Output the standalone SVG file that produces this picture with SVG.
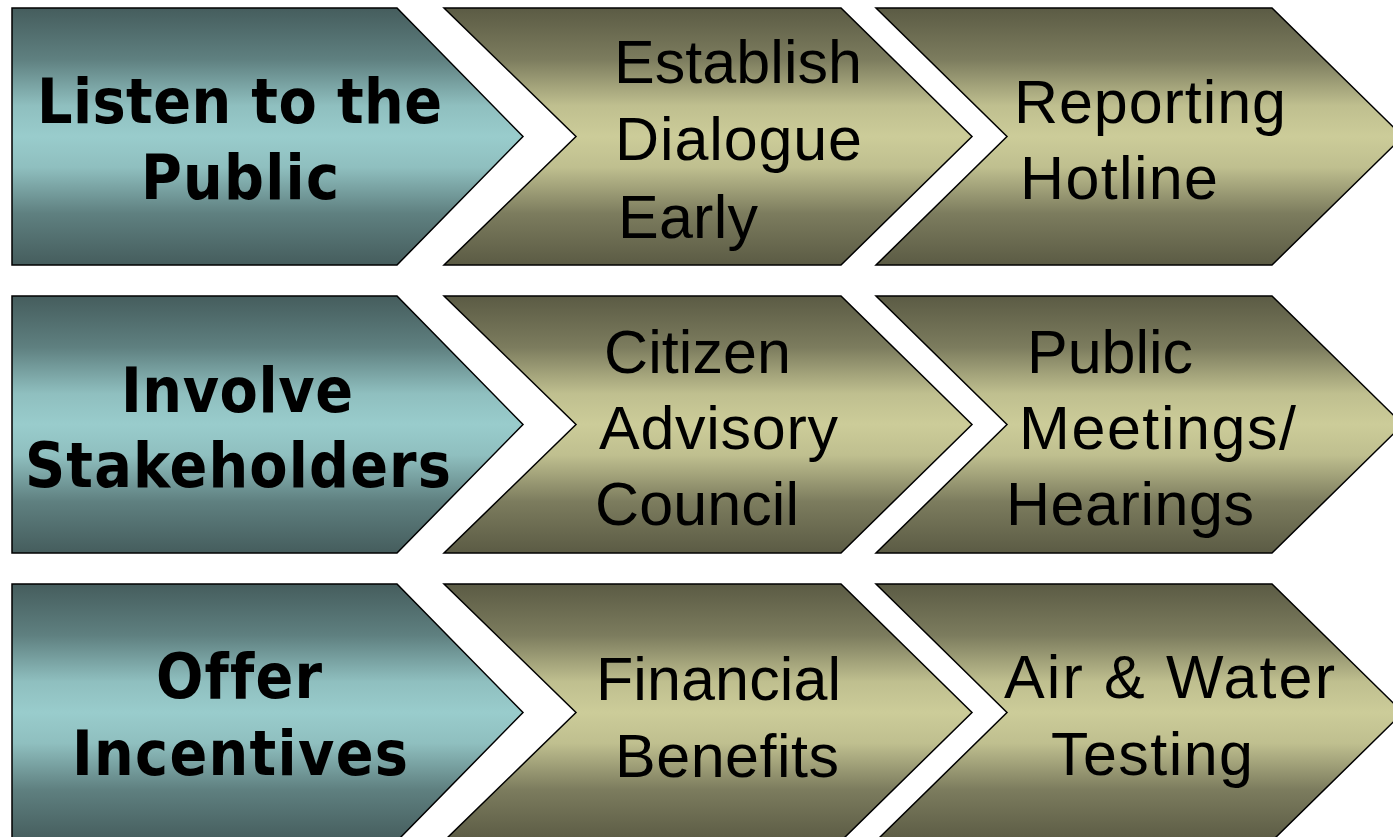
<svg xmlns="http://www.w3.org/2000/svg" width="1393" height="837" viewBox="0 0 1393 837">
<defs>
<linearGradient id="gTeal" x1="0" y1="0" x2="0" y2="1">
<stop offset="0" stop-color="#455d5d"/>
<stop offset="0.2" stop-color="#5f8080"/>
<stop offset="0.38" stop-color="#8fbfbf"/>
<stop offset="0.5" stop-color="#99cccc"/>
<stop offset="0.62" stop-color="#8fbfbf"/>
<stop offset="0.8" stop-color="#5f8080"/>
<stop offset="1" stop-color="#455d5d"/>
</linearGradient>
<linearGradient id="gOlive" x1="0" y1="0" x2="0" y2="1">
<stop offset="0" stop-color="#5b5b44"/>
<stop offset="0.2" stop-color="#7c7c5e"/>
<stop offset="0.38" stop-color="#bfbf8f"/>
<stop offset="0.5" stop-color="#cccc99"/>
<stop offset="0.62" stop-color="#bfbf8f"/>
<stop offset="0.8" stop-color="#7c7c5e"/>
<stop offset="1" stop-color="#5b5b44"/>
</linearGradient>
</defs>
<style>
.teal{fill:url(#gTeal);stroke:#000;stroke-width:1.5;stroke-linejoin:miter}
.olive{fill:url(#gOlive);stroke:#000;stroke-width:1.5;stroke-linejoin:miter}
.b{font-family:"DejaVu Sans Condensed","Liberation Sans",Arial,sans-serif;font-weight:bold;font-size:62px;fill:#000;font-variant-ligatures:none}
.r{font-family:"Liberation Sans",Arial,sans-serif;font-size:61px;fill:#000}
</style>
<rect width="1393" height="837" fill="#fff"/>

<g id="row1">
<g id="listen">
<polygon class="teal" points="12,8 397,8 523,136.5 397,265 12,265"/>
<text class="b" x="37" y="123" textLength="405" lengthAdjust="spacing">Listen to the</text>
<text class="b" x="141" y="199" textLength="198" lengthAdjust="spacing">Public</text>
</g>
<g id="dialogue">
<polygon class="olive" points="444,8 841,8 972,136.5 841,265 444,265 576,136.5"/>
<text class="r" x="614" y="83" textLength="248" lengthAdjust="spacing">Establish</text>
<text class="r" x="615" y="160" textLength="247" lengthAdjust="spacing">Dialogue</text>
<text class="r" x="618" y="238" textLength="140" lengthAdjust="spacing">Early</text>
</g>
<g id="hotline">
<polygon class="olive" points="876,8 1272,8 1403,136.5 1272,265 876,265 1007,136.5"/>
<text class="r" x="1014" y="123" textLength="272" lengthAdjust="spacing">Reporting</text>
<text class="r" x="1020" y="199" textLength="198" lengthAdjust="spacing">Hotline</text>
</g>
</g>

<g id="row2">
<g id="involve">
<polygon class="teal" points="12,296 397,296 523,424.5 397,553 12,553"/>
<text class="b" x="121" y="412" textLength="232" lengthAdjust="spacing">Involve</text>
<text class="b" x="25" y="487" textLength="426" lengthAdjust="spacing">Stakeholders</text>
</g>
<g id="council">
<polygon class="olive" points="444,296 841,296 972,424.5 841,553 444,553 576,424.5"/>
<text class="r" x="604" y="373" textLength="187" lengthAdjust="spacing">Citizen</text>
<text class="r" x="599" y="449" textLength="239" lengthAdjust="spacing">Advisory</text>
<text class="r" x="595" y="525" textLength="204" lengthAdjust="spacing">Council</text>
</g>
<g id="meetings">
<polygon class="olive" points="876,296 1272,296 1403,424.5 1272,553 876,553 1007,424.5"/>
<text class="r" x="1027" y="373" textLength="166" lengthAdjust="spacing">Public</text>
<text class="r" x="1019" y="449" textLength="277" lengthAdjust="spacing">Meetings/</text>
<text class="r" x="1006" y="525" textLength="248" lengthAdjust="spacing">Hearings</text>
</g>
</g>

<g id="row3">
<g id="incentives">
<polygon class="teal" points="12,584 397,584 523,712.5 397,841 12,841"/>
<text class="b" x="156" y="698" textLength="166" lengthAdjust="spacing">Offer</text>
<text class="b" x="72" y="775" textLength="336" lengthAdjust="spacing">Incentives</text>
</g>
<g id="financial">
<polygon class="olive" points="444,584 841,584 972,712.5 841,841 444,841 576,712.5"/>
<text class="r" x="596" y="700" textLength="245" lengthAdjust="spacing">Financial</text>
<text class="r" x="615" y="777" textLength="224" lengthAdjust="spacing">Benefits</text>
</g>
<g id="testing">
<polygon class="olive" points="876,584 1272,584 1403,712.5 1272,841 876,841 1007,712.5"/>
<text class="r" x="1004" y="698" textLength="331" lengthAdjust="spacing">Air &amp; Water</text>
<text class="r" x="1051" y="775" textLength="202" lengthAdjust="spacing">Testing</text>
</g>
</g>
<g id="connectors"/>
</svg>
